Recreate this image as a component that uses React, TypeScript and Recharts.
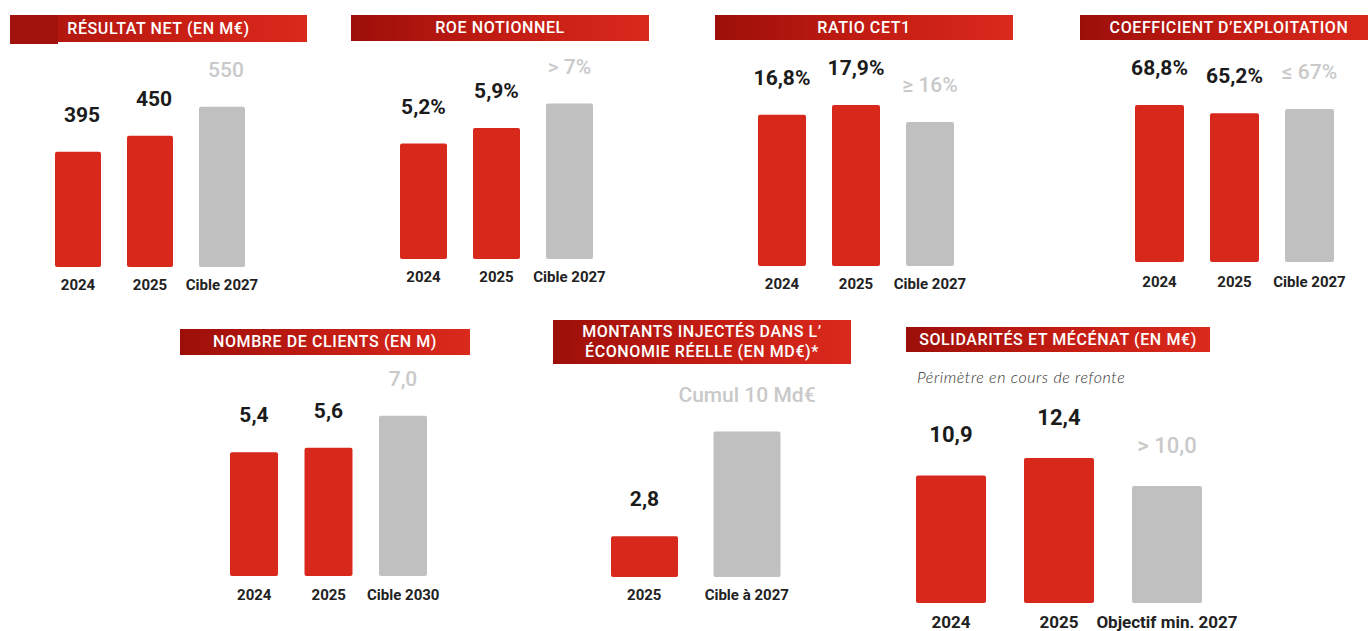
import { Bar, BarChart, Cell, LabelList, XAxis, YAxis } from 'recharts'

const RED = '#d8281c'
const GREY = '#c0c0c0'
const INK = '#1b1b1b'
const GREY_TEXT = '#c9c9c9'
const FONT = 'Roboto, "Noto Sans", sans-serif'

// --- data ---
const resultatNetYears = ['2024', '2025', 'Cible 2027']
const resultatNetValues = [395, 450, 550]
const resultatNetLabels = ['395', '450', '550']

const roeYears = ['2024', '2025', 'Cible 2027']
const roeValues = [5.2, 5.9, 7]
const roeLabels = ['5,2%', '5,9%', '> 7%']

const cet1Years = ['2024', '2025', 'Cible 2027']
const cet1Values = [16.8, 17.9, 16]
const cet1Labels = ['16,8%', '17,9%', '≥ 16%']

const coefYears = ['2024', '2025', 'Cible 2027']
const coefValues = [68.8, 65.2, 67]
const coefLabels = ['68,8%', '65,2%', '≤ 67%']

const clientsYears = ['2024', '2025', 'Cible 2030']
const clientsValues = [5.4, 5.6, 7.0]
const clientsLabels = ['5,4', '5,6', '7,0']

const montantsYears = ['2025', 'Cible à 2027']
const montantsValues = [2.8, 10]
const montantsLabels = ['2,8', 'Cumul 10 Md€']

const solidariteYears = ['2024', '2025', 'Objectif min. 2027']
const solidariteValues = [10.9, 12.4, 10]
const solidariteLabels = ['10,9', '12,4', '> 10,0']

interface Layout {
  left: number
  band: number
  barSize: number
  top: number
  base: number
  k: number // px per unit
  labelGap: number
  labelSize: number
  tickGap: number
  tickSize: number
  labelDx?: number
}

interface Banner {
  x: number
  y: number
  w: number
  h: number
  lines: string[]
  darkBlock?: number
}

interface PanelProps {
  banner: Banner
  cats: string[]
  values: number[]
  labels: string[]
  layout: Layout
  subtitle?: { x: number; y: number; text: string }
}

const PAD = 50

function Panel({ banner, cats, values, labels, layout, subtitle }: PanelProps) {
  const rows = cats.map((name, i) => ({
    name,
    value: values[i],
    label: labels[i],
    target: i === cats.length - 1,
  }))
  const plotW = layout.band * cats.length
  const plotH = layout.base - layout.top
  const max = plotH / layout.k
  const axisH = 40

  return (
    <>
      {banner.darkBlock ? (
        <div
          style={{
            position: 'absolute',
            left: banner.x,
            top: banner.y,
            width: banner.darkBlock,
            height: banner.h + 2,
            background: '#a0120b',
          }}
        />
      ) : null}
      <div
        style={{
          position: 'absolute',
          left: banner.x + (banner.darkBlock || 0),
          top: banner.y,
          width: banner.w - (banner.darkBlock || 0),
          height: banner.h,
          background: banner.darkBlock
            ? 'linear-gradient(90deg, #b2170f 0%, #c91f15 50%, #da291d 100%)'
            : 'linear-gradient(90deg, #9c0f09 0%, #c21c13 50%, #da291d 100%)',
        }}
      />
      <div
        style={{
          position: 'absolute',
          left: banner.x,
          top: banner.y,
          width: banner.w,
          height: banner.h,
          display: 'flex',
          flexDirection: 'column',
          justifyContent: 'center',
          alignItems: 'center',
          color: '#fff',
          fontFamily: FONT,
          fontWeight: 500,
          fontSize: 16,
          lineHeight: '20px',
          letterSpacing: 0.6,
          whiteSpace: 'nowrap',
        }}
      >
        {banner.lines.map((l) => (
          <div key={l}>{l}</div>
        ))}
      </div>
      {subtitle ? (
        <div
          style={{
            position: 'absolute',
            left: subtitle.x,
            top: subtitle.y - 10,
            fontFamily: 'Lato, sans-serif',
            fontStyle: 'italic',
            fontWeight: 300,
            fontSize: 16,
            lineHeight: '20px',
            color: '#333',
            letterSpacing: 0.6,
            whiteSpace: 'nowrap',
          }}
        >
          {subtitle.text}
        </div>
      ) : null}
      <div style={{ position: 'absolute', left: layout.left - PAD, top: layout.top }}>
        <BarChart
          width={plotW + PAD * 2}
          height={plotH + axisH}
          data={rows}
          margin={{ top: 0, right: PAD, bottom: 0, left: PAD }}
        >
          <XAxis
            dataKey="name"
            type="category"
            axisLine={false}
            tickLine={false}
            tickSize={0}
            tickMargin={0}
            height={axisH}
            interval={0}
            tick={(p: any) => (
              <text
                x={p.x}
                y={p.y + layout.tickGap}
                textAnchor="middle"
                fontFamily={FONT}
                fontWeight={700}
                fontSize={layout.tickSize}
                fill="#222"
              >
                {p.payload.value}
              </text>
            )}
          />
          <YAxis hide type="number" domain={[0, max]} allowDataOverflow />
          <Bar dataKey="value" barSize={layout.barSize} radius={2} isAnimationActive={false}>
            {rows.map((r) => (
              <Cell key={r.name} fill={r.target ? GREY : RED} />
            ))}
            <LabelList
              dataKey="label"
              content={(p: any) => {
                const r = rows[p.index]
                return (
                  <text
                    x={p.x + p.width / 2 + (layout.labelDx || 0)}
                    y={p.y - layout.labelGap}
                    textAnchor="middle"
                    fontFamily={FONT}
                    fontWeight={r.target ? 500 : 700}
                    fontSize={layout.labelSize}
                    fill={r.target ? GREY_TEXT : INK}
                  >
                    {p.value}
                  </text>
                )
              }}
            />
          </Bar>
        </BarChart>
      </div>
    </>
  )
}

export default function App() {
  return (
    <div
      style={{
        position: 'absolute',
        left: 0,
        top: 0,
        width: 1368,
        height: 631,
        overflow: 'hidden',
        background: '#fff',
      }}
    >
      <Panel
        banner={{ x: 10, y: 15, w: 297, h: 27, lines: ['RÉSULTAT NET (EN M€)'], darkBlock: 48 }}
        cats={resultatNetYears}
        values={resultatNetValues}
        labels={resultatNetLabels}
        layout={{ left: 42, band: 72, barSize: 46, top: 46, base: 267, k: 0.2915, labelGap: 30, labelSize: 21, tickGap: 23, tickSize: 15, labelDx: 4 }}
      />
      <Panel
        banner={{ x: 351, y: 15, w: 298, h: 26, lines: ['ROE NOTIONNEL'] }}
        cats={roeYears}
        values={roeValues}
        labels={roeLabels}
        layout={{ left: 387, band: 73, barSize: 47, top: 46, base: 259, k: 22.2, labelGap: 30, labelSize: 21, tickGap: 23, tickSize: 15 }}
      />
      <Panel
        banner={{ x: 715, y: 15, w: 298, h: 25, lines: ['RATIO CET1'] }}
        cats={cet1Years}
        values={cet1Values}
        labels={cet1Labels}
        layout={{ left: 745, band: 74, barSize: 48, top: 46, base: 266, k: 9.0, labelGap: 30, labelSize: 21, tickGap: 23, tickSize: 15 }}
      />
      <Panel
        banner={{ x: 1080, y: 15, w: 298, h: 25, lines: ['COEFFICIENT D’EXPLOITATION'] }}
        cats={coefYears}
        values={coefValues}
        labels={coefLabels}
        layout={{ left: 1121.5, band: 75, barSize: 49, top: 46, base: 262, k: 2.283, labelGap: 30, labelSize: 21, tickGap: 25, tickSize: 15 }}
      />
      <Panel
        banner={{ x: 180, y: 329, w: 290, h: 26, lines: ['NOMBRE DE CLIENTS (EN M)'] }}
        cats={clientsYears}
        values={clientsValues}
        labels={clientsLabels}
        layout={{ left: 216.75, band: 74.5, barSize: 48, top: 360, base: 576, k: 22.9, labelGap: 30, labelSize: 21, tickGap: 24, tickSize: 15 }}
      />
      <Panel
        banner={{ x: 553, y: 320, w: 298, h: 44, lines: ['MONTANTS INJECTÉS DANS L’', 'ÉCONOMIE RÉELLE (EN MD€)*'] }}
        cats={montantsYears}
        values={montantsValues}
        labels={montantsLabels}
        layout={{ left: 593.25, band: 102.5, barSize: 67, top: 368, base: 577, k: 14.55, labelGap: 30, labelSize: 21, tickGap: 23, tickSize: 15 }}
      />
      <Panel
        banner={{ x: 906, y: 327, w: 304, h: 25, lines: ['SOLIDARITÉS ET MÉCÉNAT (EN M€)'] }}
        cats={solidariteYears}
        values={solidariteValues}
        labels={solidariteLabels}
        layout={{ left: 897, band: 108, barSize: 70, top: 392, base: 603, k: 11.7, labelGap: 33, labelSize: 22, tickGap: 25, tickSize: 17 }}
        subtitle={{ x: 917, y: 377, text: 'Périmètre en cours de refonte' }}
      />
    </div>
  )
}
